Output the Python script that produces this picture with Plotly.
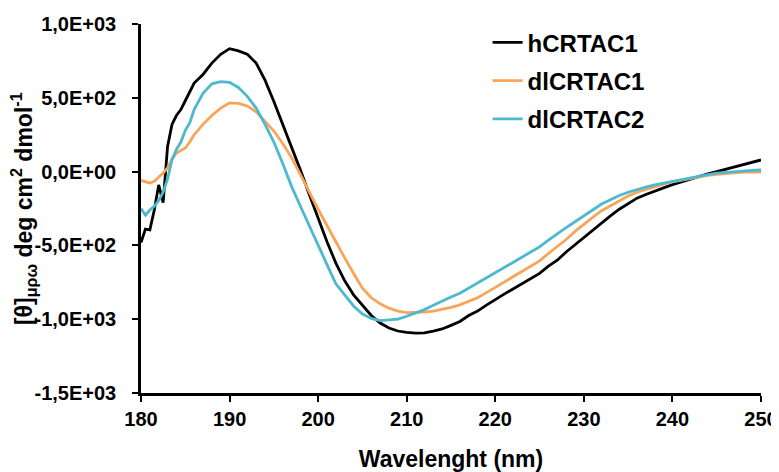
import plotly.graph_objects as go

# wavelength grid (nm): finer steps where the traces are noisy
wavelength = [180, 180.5, 181, 181.5, 182, 182.5, 183, 183.5, 184, 184.5, 185, 185.5, 186] + list(range(187, 251))

hCRTAC1 = [-480, -390, -395, -260, -90, -210, 170, 320, 380, 420, 480, 546, 600,
           658, 735, 795, 833, 818, 795, 735, 620, 475, 320, 170, 10, -155, -320,
           -475, -620, -740, -835, -905, -975, -1026, -1060, -1080, -1090, -1094, -1092,
           -1080, -1066, -1042, -1015, -975, -945, -905, -865, -830, -795, -760, -720,
           -690, -640, -600, -545, -495, -445, -395, -345, -300, -255, -215, -180,
           -155, -130, -110, -88, -70, -50, -30, -15, 0, 15, 30, 45, 62, 79]

dlCRTAC1 = [-60, -70, -78, -65, -40, -10, 25, 85, 125, 145, 160, 200, 250,
            320, 380, 430, 465, 462, 445, 405, 340, 275, 190, 95, -20, -140, -255,
            -365, -480, -585, -690, -790, -855, -895, -925, -945, -955, -955, -952,
            -945, -935, -920, -903, -880, -855, -820, -785, -750, -715, -680, -640,
            -605, -555, -510, -460, -405, -355, -310, -265, -230, -195, -165, -140,
            -120, -100, -85, -70, -58, -45, -35, -25, -18, -12, -6, -4, -4, -4]

dlCRTAC2 = [-250, -295, -260, -235, -195, -140, -50, 80, 150, 200, 280, 330, 420,
            530, 595, 610, 605, 570, 510, 430, 320, 200, 55, -100, -235, -370, -505,
            -630, -760, -835, -910, -965, -995, -1009, -1007, -1000, -980, -958, -935,
            -905, -875, -850, -824, -790, -755, -720, -685, -650, -615, -580, -545,
            -510, -465, -420, -380, -340, -300, -260, -220, -190, -162, -140, -120,
            -105, -90, -78, -65, -52, -40, -28, -20, -11, -5, 0, 4, 8, 11]

y_ticks = [-1500, -1000, -500, 0, 500, 1000]
y_ticktext = ["-1,5E+03", "-1,0E+03", "-5,0E+02", "0,0E+00", "5,0E+02", "1,0E+03"]
x_ticks = [180, 190, 200, 210, 220, 230, 240, 250]

font_family = "Liberation Sans, Arial, sans-serif"

fig = go.Figure()
series = [("hCRTAC1", hCRTAC1, "#000000"),
          ("dlCRTAC1", dlCRTAC1, "#F8A55A"),
          ("dlCRTAC2", dlCRTAC2, "#4DB8CE")]
for name, vals, color in series:
    fig.add_trace(go.Scatter(x=wavelength, y=vals, mode="lines", name="<b>%s</b>" % name,
                             legendgroup=name, line=dict(color=color, width=2.8)))

# page body has an 8px margin, so the figure is a bit smaller than the window
fig.update_layout(
    width=771, height=464,
    margin=dict(l=133, r=18, t=14, b=79),
    paper_bgcolor="white", plot_bgcolor="white",
    font=dict(family=font_family, size=20, color="black"),
    showlegend=True,
    legend=dict(x=0.559, y=1.01, xanchor="left", yanchor="top",
                font=dict(size=24, family=font_family),
                bgcolor="rgba(0,0,0,0)", tracegroupgap=4),
)

fig.update_xaxes(range=[180, 250], tickvals=x_ticks, ticktext=["<b>%d</b>" % t for t in x_ticks],
                 showgrid=False, zeroline=False, automargin=False,
                 showline=True, linecolor="black", linewidth=2.5,
                 ticks="outside", ticklen=6, tickwidth=2, tickcolor="black",
                 tickfont=dict(size=20, family=font_family),
                 title=dict(text="<b>Wavelenght (nm)</b>", font=dict(size=23), standoff=27))
fig.update_yaxes(range=[-1500, 1000], tickvals=y_ticks, ticktext=["<b>%s</b>" % t for t in y_ticktext],
                 showgrid=False, zeroline=False, automargin=False,
                 showline=True, linecolor="black", linewidth=2.5,
                 ticks="outside", ticklen=6, tickwidth=2, tickcolor="black",
                 ticklabelstandoff=12,
                 tickfont=dict(size=20, family=font_family))

fig.add_annotation(text="<b>[θ]<sub>μρω</sub> deg cm<sup>2</sup> dmol<sup>-1</sup></b>",
                   xref="paper", yref="paper", x=-0.191, y=0.5, textangle=-90,
                   showarrow=False, font=dict(size=23, family=font_family),
                   xanchor="center", yanchor="middle")

fig.write_html("out.html")
